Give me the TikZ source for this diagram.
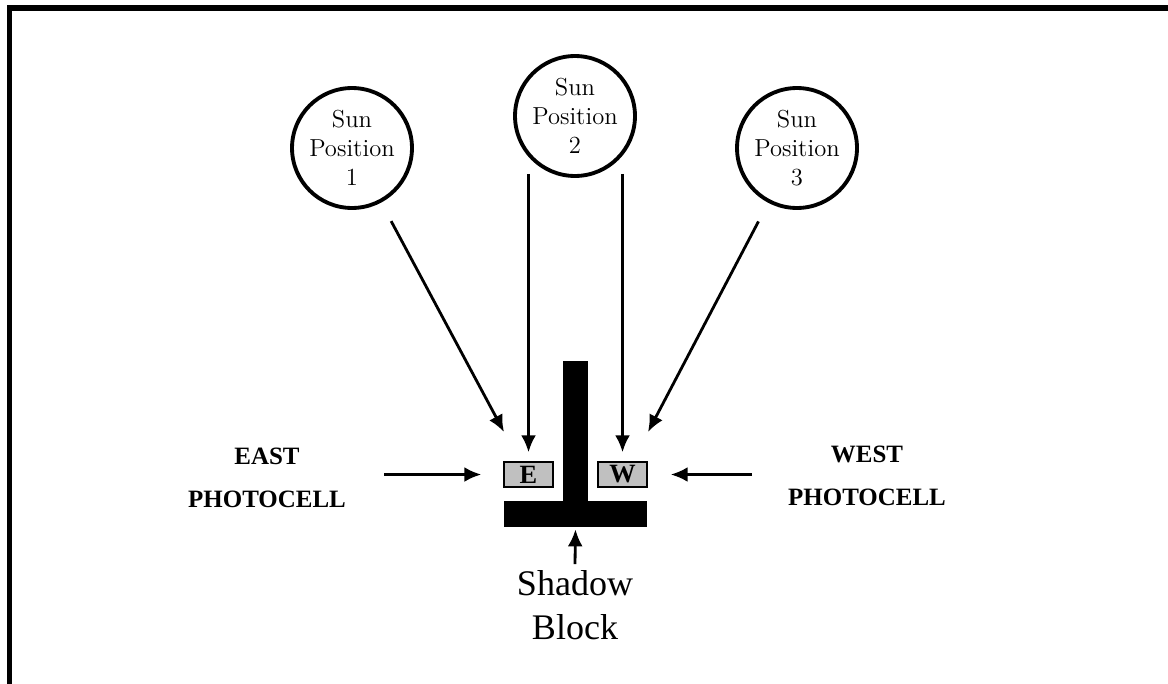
\documentclass[tikz,border=0pt]{standalone}
\usepackage{fontspec}
\newfontfamily\labelfont{Liberation Serif}
\usetikzlibrary{arrows.meta,calc}
\definecolor{cellgray}{RGB}{192,192,192}
\tikzset{
	sun/.style={draw, circle, line width=2.2pt, minimum size=2.4cm, inner sep=0pt, align=center, font=\fontsize{14}{16.4}\selectfont},
	ray/.style={line width=1.6pt, -{Latex[length=0.34cm,width=0.3cm]}},
	cell/.style={draw, fill=cellgray, line width=0.8pt, minimum width=0.98cm, minimum height=0.5cm, inner sep=0pt, font=\labelfont\bfseries\fontsize{15}{15}\selectfont},
	side/.style={align=center, font=\labelfont\bfseries\fontsize{14.2}{24.5}\selectfont},
}

\begin{document}
\begin{tikzpicture}[x=0.02cm, y=-0.02cm]
		%%%%% START %%%%%
		\useasboundingbox (0, 0) rectangle (1168, 683);
		
		\draw[line width=0.11cm] (9.5, 700) -- (9.5, 8) -- (1180, 8);
		
		\node[sun] (sun1) at (352, 148) {Sun\\Position\\1};
		\node[sun] (sun2) at (575, 116) {Sun\\Position\\2};
		\node[sun] (sun3) at (797, 148) {Sun\\Position\\3};
		
		\fill (563, 361) rectangle (588, 501);
		\node[fill, minimum width=2.86cm, minimum height=0.52cm, inner sep=0pt] (base) at (575.5, 514) {};
		
		\node[cell] (E) at (528.5, 474.5) {E};
		\node[cell] (W) at (622.5, 474.5) {W};
		
		\coordinate (tip1) at (504, 432);
		\coordinate (tip3) at (648, 432);
		
		\draw[ray, shorten <=0.42cm] (sun1) -- (tip1);
		\draw[ray, shorten <=-0.08cm, shorten >=0.18cm] (sun2.south -| E.north) -- (E.north);
		\draw[ray, shorten <=-0.08cm, shorten >=0.18cm] (sun2.south -| W.north) -- (W.north);
		\draw[ray, shorten <=0.42cm] (sun3) -- (tip3);
		
		\node[side] (east) at (267, 478) {EAST\\PHOTOCELL};
		\node[side] (west) at (867, 476) {WEST\\PHOTOCELL};
		
		\draw[ray, shorten <=0.64cm, shorten >=0.44cm] (east.east |- E.west) -- (E.west);
		\draw[ray, shorten <=0.6cm, shorten >=0.46cm] (west.west |- W.east) -- (W.east);
		
		\node[align=center, font=\labelfont\fontsize{20.5}{25}\selectfont] (shadow) at (575, 605) {Shadow\\Block};
		\draw[ray, shorten >=0.04cm] (shadow.north) -- (base.south);
		
		%%%%% END %%%%%
\end{tikzpicture}
\end{document}
